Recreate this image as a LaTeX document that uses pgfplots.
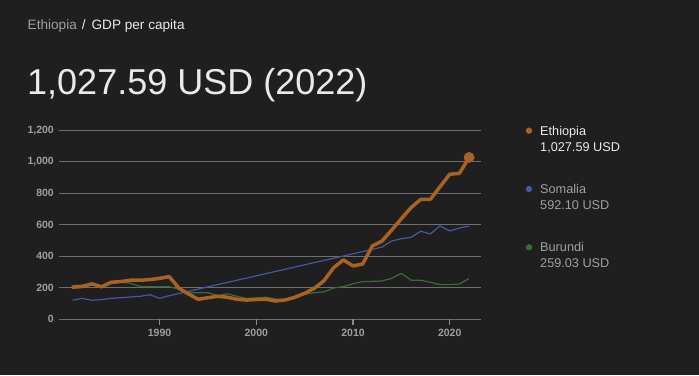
\documentclass[border=0pt]{standalone}
\usepackage{pgfplots}
\pgfplotsset{compat=1.18}
\usepackage{fontspec}
\setmainfont{Liberation Sans}
\definecolor{bg}{HTML}{1F1F1F}
\definecolor{gridc}{HTML}{6E6E6E}
\definecolor{tickc}{HTML}{8C8C8C}
\definecolor{lab}{HTML}{9AA0A6}
\definecolor{wht}{HTML}{E8EAED}
\definecolor{eth}{HTML}{A86222}
\definecolor{som}{HTML}{4A569D}
\definecolor{bur}{HTML}{3D6A36}
\begin{document}
\begin{tikzpicture}[x=1pt,y=1pt]
\fill[bg] (0,0) rectangle (699,375);
\node[anchor=base west,inner sep=0pt] at (27.5,345.7) {\fontsize{13.6}{16}\selectfont\textcolor{lab}{Ethiopia}\hspace{5pt}\textcolor{wht}{/}\hspace{6pt}\textcolor{wht}{GDP per capita}};
\node[anchor=base west,inner sep=0pt,text=wht] at (27,280) {\fontsize{36}{40}\selectfont 1,027.59 USD (2022)};
\begin{axis}[
  at={(59pt,55.7pt)}, anchor=south west,
  scale only axis, width=421.7pt, height=189pt,
  xmin=1979.6, xmax=2023.2, ymin=0, ymax=1200,
  clip=false,
  axis line style={draw=none},
  tick align=outside, major tick length=5.5pt,
  xtick={1990,2000,2010,2020}, xticklabels={1990,2000,2010,2020},
  ytick={0,200,400,600,800,1000,1200}, yticklabels={0,200,400,600,800,{1,000},{1,200}},
  xtick pos=bottom, ytick pos=left,
  xmajorgrids=false, ymajorgrids=true,
  tick style={draw=none},
  major y grid style={draw=gridc, line width=0.9pt},
  ticklabel style={font=\fontsize{10.5}{12}\selectfont\bfseries, text=lab, inner sep=0pt},
  xticklabel style={anchor=north, yshift=-4pt},
  yticklabel style={anchor=east, xshift=0.5pt},
]
\draw[tickc, line width=1.1pt] (axis cs:1990,0) -- (axis cs:1990,-38);
\draw[tickc, line width=1.1pt] (axis cs:2000,0) -- (axis cs:2000,-38);
\draw[tickc, line width=1.1pt] (axis cs:2010,0) -- (axis cs:2010,-38);
\draw[tickc, line width=1.1pt] (axis cs:2020,0) -- (axis cs:2020,-38);
\addplot[bur, line width=1.2pt, line join=round] coordinates {
(1981,215)(1982,217)(1983,223)(1984,210)(1985,235)(1986,235)(1987,229)(1988,208)(1989,206)(1990,207)
(1991,207)(1992,190)(1993,169)(1994,169)(1995,169)(1996,150)(1997,162)(1998,146)(1999,132)(2000,136)
(2001,140)(2002,129)(2003,125)(2004,144)(2005,159)(2006,169)(2007,174)(2008,199)(2009,207)(2010,226)
(2011,239)(2012,241)(2013,243)(2014,260)(2015,292)(2016,248)(2017,248)(2018,235)(2019,220)(2020,220)
(2021,224)(2022,259.03)};
\addplot[som, line width=1.2pt, line join=round] coordinates {
(1981,121)(1982,133)(1983,121)(1984,125)(1985,133)(1986,137)(1987,142)(1988,146)(1989,156)(1990,133)
(1991,150)(2012,444)(2013,459)(2014,497)(2015,512)(2016,521)(2017,559)(2018,542)(2019,593)(2020,561)
(2021,580)(2022,592.10)};
\addplot[eth, line width=3.5pt, line join=round, line cap=round] coordinates {
(1981,204)(1982,208)(1983,225)(1984,206)(1985,235)(1986,240)(1987,248)(1988,248)(1989,252)(1990,260)
(1991,271)(1992,198)(1993,160)(1994,127)(1995,137)(1996,146)(1997,140)(1998,127)(1999,122)(2000,126)
(2001,127)(2002,116)(2003,123)(2004,140)(2005,165)(2006,197)(2007,245)(2008,328)(2009,377)(2010,339)
(2011,351)(2012,466)(2013,497)(2014,567)(2015,639)(2016,709)(2017,762)(2018,762)(2019,842)(2020,921)
(2021,927)(2022,1027.59)};
\addplot[eth, only marks, mark=*, mark size=5.2pt] coordinates {(2022,1027.59)};
\end{axis}
\fill[eth] (529,244.3) circle (3.2);
\fill[som] (529,186) circle (3.2);
\fill[bur] (529,127.7) circle (3.2);
\begin{scope}[every node/.style={anchor=base west,inner sep=0pt,font=\fontsize{12.7}{15}\selectfont}]
\node[text=wht] at (540,239.3) {Ethiopia};
\node[text=wht] at (540,223.3) {1,027.59 USD};
\node[text=lab] at (540,181.3) {Somalia};
\node[text=lab] at (540,165.3) {592.10 USD};
\node[text=lab] at (540,123.3) {Burundi};
\node[text=lab] at (540,107.3) {259.03 USD};
\end{scope}
\end{tikzpicture}
\end{document}
